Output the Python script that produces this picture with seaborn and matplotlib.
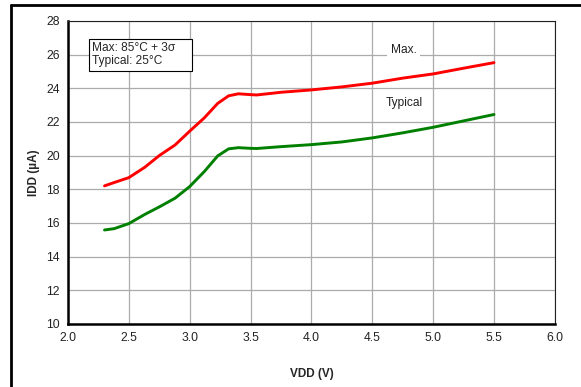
import pandas as pd
import matplotlib.pyplot as plt
import seaborn as sns
from matplotlib.lines import Line2D

# 값
vdd_max = [2.3, 2.38, 2.5, 2.63, 2.75, 2.88, 3.0, 3.12, 3.23, 3.32, 3.4, 3.5, 3.55,
           3.75, 4.0, 4.25, 4.5, 4.75, 5.0, 5.25, 5.5]
idd_max = [18.2, 18.4, 18.69, 19.3, 20.0, 20.63, 21.45, 22.24, 23.1, 23.55, 23.67, 23.62, 23.6,
           23.76, 23.9, 24.08, 24.3, 24.6, 24.85, 25.19, 25.52]

vdd_typ = [2.3, 2.38, 2.5, 2.63, 2.75, 2.88, 3.0, 3.12, 3.23, 3.32, 3.4, 3.5, 3.55,
           3.75, 4.0, 4.25, 4.5, 4.75, 5.0, 5.25, 5.5]
idd_typ = [15.58, 15.66, 15.96, 16.5, 16.95, 17.47, 18.16, 19.05, 19.98, 20.4, 20.47, 20.43, 20.42,
           20.53, 20.65, 20.81, 21.05, 21.35, 21.68, 22.06, 22.44]

x_ticks = [2.0, 2.5, 3.0, 3.5, 4.0, 4.5, 5.0, 5.5, 6.0]
y_ticks = [10, 12, 14, 16, 18, 20, 22, 24, 26, 28]

df = pd.concat([
    pd.DataFrame({'VDD': vdd_max, 'IDD': idd_max, 'curve': 'Max.'}),
    pd.DataFrame({'VDD': vdd_typ, 'IDD': idd_typ, 'curve': 'Typical'}),
])

sns.set_style('white')
plt.rcParams['font.family'] = ['Liberation Sans', 'DejaVu Sans']

fig = plt.figure(figsize=(5.81, 3.87), dpi=100)
ax = fig.add_axes([0.117, 0.163, 0.838, 0.783])

sns.lineplot(data=df, x='VDD', y='IDD', hue='curve',
             palette={'Max.': '#ff0000', 'Typical': '#008000'},
             linewidth=2.1, legend=False, ax=ax, zorder=3)

ax.set_xlim(2.0, 6.0)
ax.set_ylim(10, 28)
ax.set_xticks(x_ticks)
ax.set_xticklabels([f'{v:.1f}' for v in x_ticks])
ax.set_yticks(y_ticks)
ax.grid(True, color='#ababab', linewidth=0.9)
ax.tick_params(length=0, labelsize=8.7, pad=6, colors='#222222')

for s in ['left', 'bottom']:
    ax.spines[s].set_linewidth(1.8)
    ax.spines[s].set_color('black')
for s in ['top', 'right']:
    ax.spines[s].set_linewidth(0.8)
    ax.spines[s].set_color('#222222')

ax.set_xlabel('VDD (V)', fontsize=8.5, fontweight='bold', labelpad=17)
ax.set_ylabel('IDD (µA)', fontsize=8.5, fontweight='bold', labelpad=4)

ax.text(0.05, 0.93, 'Max: 85°C + 3σ    \nTypical: 25°C', transform=ax.transAxes,
        fontsize=8.6, va='top', ha='left', linespacing=1.1,
        bbox=dict(boxstyle='square,pad=0.3', fc='white', ec='black', lw=0.8))
ax.text(4.76, 26.28, 'Max.', fontsize=8.6, ha='center', va='center', color='#222222',
        bbox=dict(boxstyle='square,pad=0.3', fc='white', ec='none'))
ax.text(4.76, 23.1, 'Typical', fontsize=8.6, ha='center', va='center', color='#222222')

# 바깥 테두리
fig.add_artist(Line2D([11 / 581, 1], [1 - 5 / 387, 1 - 5 / 387], color='black', lw=2,
                      transform=fig.transFigure))
fig.add_artist(Line2D([11 / 581, 11 / 581], [0, 1 - 5 / 387], color='black', lw=2,
                      transform=fig.transFigure))

fig.savefig('out.png', dpi=100)
